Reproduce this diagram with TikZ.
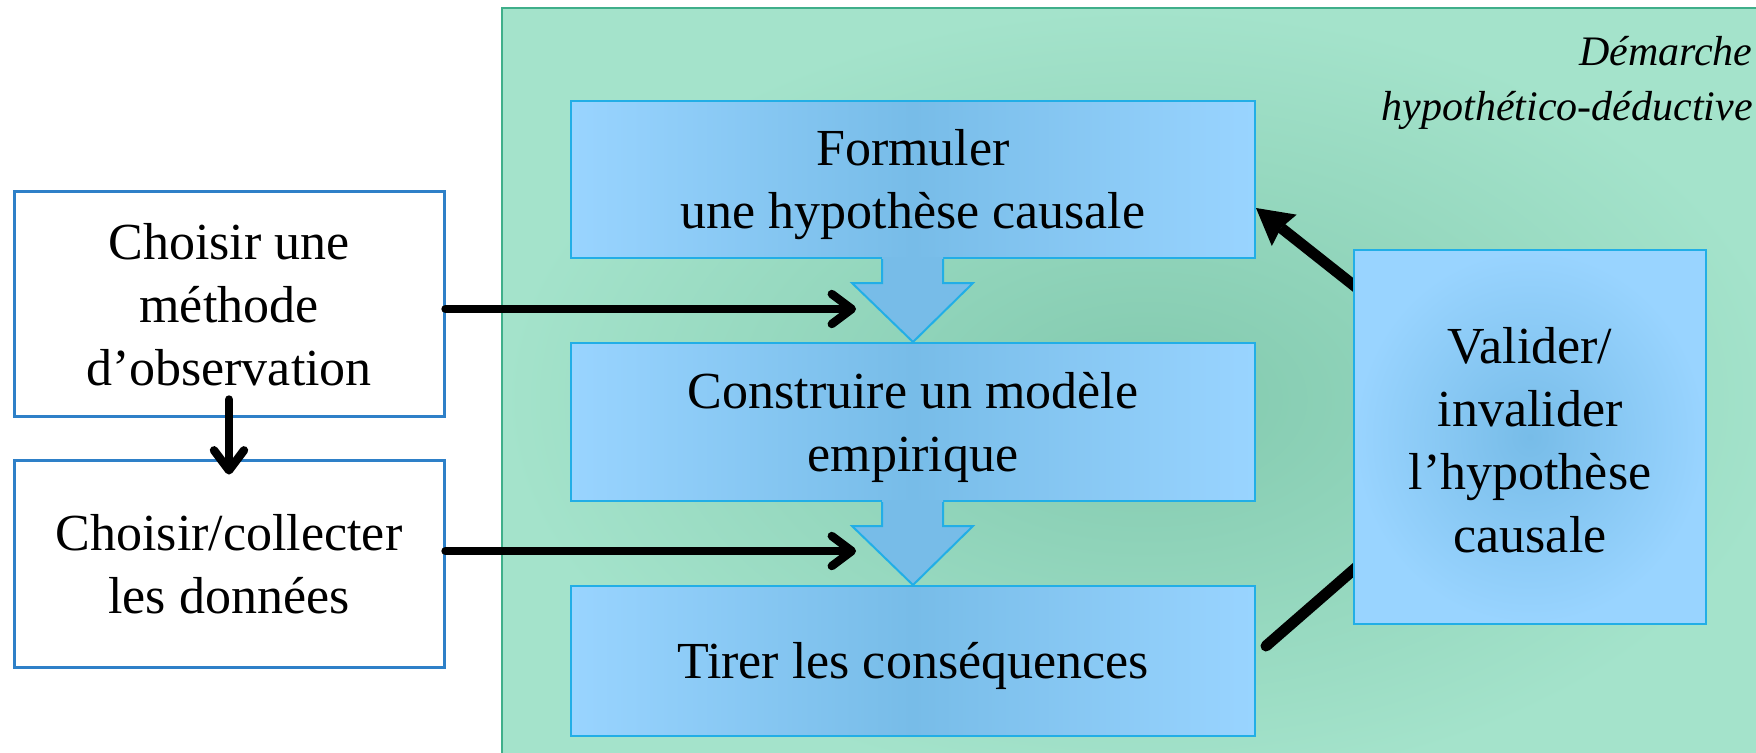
\documentclass[tikz,border=0pt]{standalone}
\usepackage{fontspec}
\setmainfont{Liberation Serif}
\usetikzlibrary{arrows.meta,calc}
\definecolor{panelin}{HTML}{82C9AE}
\definecolor{panelout}{HTML}{A4E3CB}
\definecolor{panelline}{HTML}{3FAF8A}
\definecolor{boxlight}{HTML}{99D4FF}
\definecolor{boxdark}{HTML}{77BCE8}
\definecolor{boxline}{HTML}{22AEE6}
\definecolor{leftline}{HTML}{2E80C8}
\pgfdeclarelayer{panellayer}
\pgfdeclarelayer{connlayer}
\pgfsetlayers{panellayer,connlayer,main}
\newcommand{\boxtext}[2][-2.5pt]{\raisebox{#1}[\height][\depth]{\begin{tabular}{@{}c@{}}#2\end{tabular}}}
\begin{document}
\begin{tikzpicture}[x=0.5pt,y=-0.5pt,
  txt/.style={font=\fontsize{26}{31.5}\selectfont, align=center, inner sep=0pt, text=black},
  stepbox/.style={txt, draw=boxline, line width=1pt, left color=boxlight, right color=boxlight, middle color=boxdark, minimum width=342pt},
  valbox/.style={txt, draw=boxline, line width=1pt, inner color=boxdark, outer color=boxlight, minimum width=176pt, minimum height=187pt},
  leftbox/.style={txt, draw=leftline, line width=1.5pt, fill=white, minimum width=215pt},
  openarr/.style={line width=4.2pt, line cap=round, -{Straight Barb[length=10pt,width=15pt,round]}},
  thickarr/.style={line width=5.5pt, -{Stealth[length=18pt,width=20pt,inset=2pt,line width=0pt]}},
  thickline/.style={line width=5.5pt, line cap=round},
  blockarr/.style={draw=boxline, line width=1pt, line join=miter}
]
\useasboundingbox (0,0) rectangle (1756,752);

% panel
\begin{pgfonlayer}{panellayer}
\fill[inner color=panelin, outer color=panelout] (502,8) rectangle (1790,790);
\draw[panelline, line width=0.8pt] (502,790) -- (502,8) -- (1790,8);
\end{pgfonlayer}

\node[txt, anchor=north east, align=right, font=\fontsize{21}{27.5}\selectfont\itshape] (title) at (1753,36) {Démarche\\hypothético-déductive};

% steps
\node[stepbox, minimum height=78.5pt] (form) at (913,179.5) {\boxtext{Formuler\\une hypothèse causale}};
\node[stepbox, minimum height=79pt] (cons) at (913,422) {\boxtext{Construire un modèle\\empirique}};
\node[stepbox, minimum height=75pt] (tire) at (913,661) {\boxtext{Tirer les conséquences}};
\node[valbox] (val) at (1530,437) {\boxtext[-4.3pt]{Valider/\\invalider\\l’hypothèse\\causale}};

% left boxes
\node[leftbox, minimum height=112.5pt] (lb1) at (229,303.5) {\boxtext[-3pt]{Choisir une\\méthode\\d’observation}};
\node[leftbox, minimum height=103.5pt] (lb2) at (229,563.5) {\boxtext[-3pt]{Choisir/collecter\\les données}};

% block arrows between steps
\foreach \s/\t in {form/cons,cons/tire}{
  \fill[boxdark] ([xshift=-15.5pt,yshift=1pt]\s.south) -- ([xshift=15pt,yshift=1pt]\s.south)
     -- ([xshift=15pt,yshift=-12pt]\s.south) -- ([xshift=30pt,yshift=-12pt]\s.south)
     -- (\t.north) -- ([xshift=-30.5pt,yshift=-12pt]\s.south) -- ([xshift=-15.5pt,yshift=-12pt]\s.south) -- cycle;
  \draw[blockarr] ([xshift=-15.5pt]\s.south) -- ([xshift=-15.5pt,yshift=-12pt]\s.south)
     -- ([xshift=-30.5pt,yshift=-12pt]\s.south) -- (\t.north) -- ([xshift=30pt,yshift=-12pt]\s.south)
     -- ([xshift=15pt,yshift=-12pt]\s.south) -- ([xshift=15pt]\s.south);
}

% connectors
\coordinate (h1end) at (856,309);
\coordinate (h2end) at (856,551);
\draw[openarr] ([yshift=-2.75pt]lb1.east) -- (h1end);
\draw[openarr] ([yshift=6.25pt]lb2.east) -- (h2end);
\draw[openarr] ([yshift=9pt]lb1.south) -- ([yshift=-8pt]lb2.north);

\begin{pgfonlayer}{connlayer}
\draw[thickarr] ([xshift=10pt,yshift=68.2pt]val.west) -- ([yshift=-14.25pt]form.east);
\draw[thickline] ([xshift=10pt,yshift=-57.9pt]val.west) -- ([xshift=5pt,yshift=7.5pt]tire.east);
\end{pgfonlayer}
\end{tikzpicture}
\end{document}
